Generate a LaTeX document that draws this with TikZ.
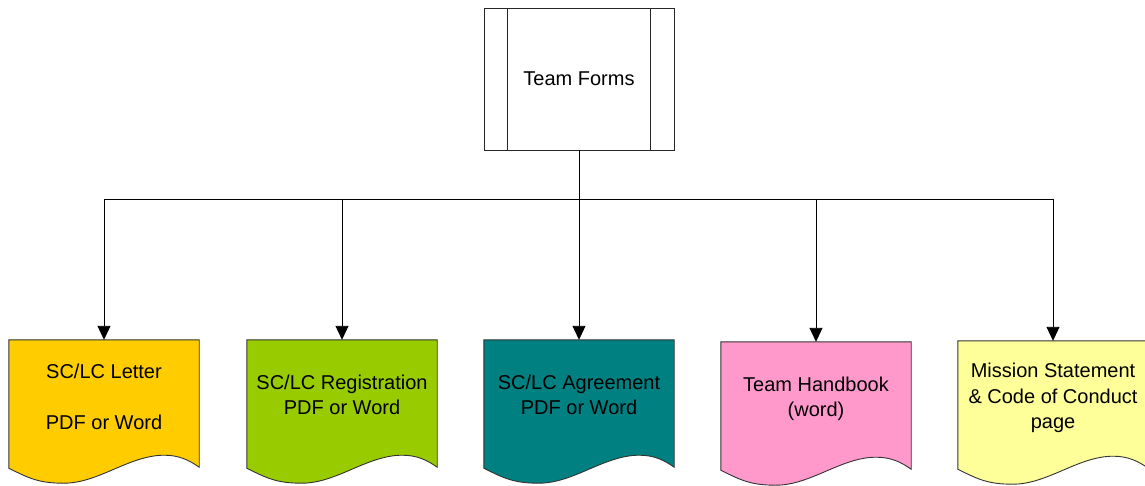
\documentclass[tikz,border=0pt]{standalone}
\usepackage{fontspec}
\setmainfont{Liberation Sans}
\usetikzlibrary{arrows.meta,calc}
\definecolor{cOrange}{HTML}{FFCC00}
\definecolor{cGreen}{HTML}{99CC00}
\definecolor{cTeal}{HTML}{008080}
\definecolor{cPink}{HTML}{FF99CC}
\definecolor{cYellow}{HTML}{FFFF99}
\tikzset{
  docbox/.style={rectangle,minimum width=190pt,minimum height=128pt,inner sep=0pt},
  doctext/.style={align=center,font=\fontsize{20}{25.5}\selectfont,inner sep=0pt},
  conn/.style={line width=0.9pt,-{Triangle[width=13pt,length=14pt]}},
  docline/.style={draw=black!80,line width=0.9pt},
}
\newcommand{\docshape}[2]{%
  \path[docline,fill=#2] (#1.north west) -- (#1.north east) -- ($(#1.south east)+(0,-1)$)
    .. controls ($(#1.south east)+(-10,-8)$) and ($(#1.south east)+(-20,-13)$) .. ($(#1.south east)+(-35,-13)$)
    .. controls ($(#1.south east)+(-70,-13)$) and ($(#1.south west)+(90,15)$) .. ($(#1.south west)+(55,15)$)
    .. controls ($(#1.south west)+(30,15)$) and ($(#1.south west)+(20,10)$) .. (#1.south west) -- cycle;
}
\begin{document}
\begin{tikzpicture}[x=1pt,y=-1pt]
\useasboundingbox (0,0) rectangle (1145,485);
% top box
\node[rectangle,draw=black!85,line width=0.9pt,minimum width=190pt,minimum height=142pt,inner sep=0pt,
      font=\fontsize{20}{25.5}\selectfont] (top) at (579,79) {Team Forms};
\draw[black!85,line width=0.9pt] ($(top.north west)+(24,0)$) -- ($(top.south west)+(24,0)$);
\draw[black!85,line width=0.9pt] ($(top.north east)+(-24,0)$) -- ($(top.south east)+(-24,0)$);
% documents
\node[docbox] (d1) at (104,404) {};
\node[docbox] (d2) at (342,404) {};
\node[docbox] (d3) at (579,404) {};
\node[docbox] (d4) at (816,406) {};
\node[docbox] (d5) at (1053,405) {};
\docshape{d1}{cOrange}
\docshape{d2}{cGreen}
\docshape{d3}{cTeal}
\docshape{d4}{cPink}
\docshape{d5}{cYellow}
\node[doctext] at ($(d1.center)+(0,-7)$) {SC/LC Letter\\ ~ \\PDF or Word};
\node[doctext] at ($(d2.center)+(0,-9)$) {SC/LC Registration\\PDF or Word};
\node[doctext] at ($(d3.center)+(0,-9)$) {SC/LC Agreement\\PDF or Word};
\node[doctext] at ($(d4.center)+(0,-7)$) {Team Handbook\\(word)};
\node[doctext] at ($(d5.center)+(0,-7)$) {Mission Statement\\\& Code of Conduct\\page};
% connectors
\coordinate (bus) at ($(top.south)+(0,49)$);
\draw[conn] (top.south) -- (bus) -| (d1.north);
\draw[conn] (bus) -| (d2.north);
\draw[conn] (top.south) -- (d3.north);
\draw[conn] (bus) -| (d4.north);
\draw[conn] (bus) -| (d5.north);
\end{tikzpicture}
\end{document}
